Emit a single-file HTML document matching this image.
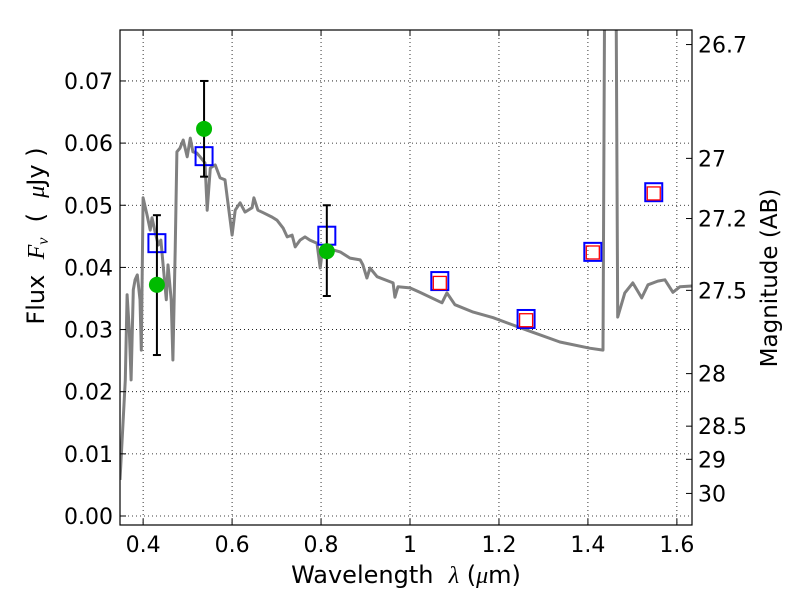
<!DOCTYPE html>
<html><head><meta charset="utf-8"><style>
body{margin:0;background:#fff;}
svg{display:block;font-family:"DejaVu Sans","Liberation Sans",sans-serif;}
</style></head><body>
<svg id="chart" width="800" height="600" xmlns="http://www.w3.org/2000/svg">
<rect width="800" height="600" fill="#fff"/>
<g id="grid"></g>
<g id="plot"></g>
<g id="axes"></g>
<text x="406" y="583" font-size="24" text-anchor="middle">Wavelength&#160;&#160;<tspan font-family="Liberation Serif,serif" font-style="italic">λ</tspan> (<tspan font-family="Liberation Serif,serif" font-style="italic">μ</tspan>m)</text>
<text transform="translate(44,236) rotate(-90)" font-size="24" text-anchor="middle">Flux&#160;&#160;<tspan font-family="Liberation Serif,serif" font-style="italic">F<tspan font-size="16" dy="4">ν</tspan></tspan><tspan dy="-4">&#160;&#160;(&#160;&#160;</tspan><tspan font-family="Liberation Serif,serif" font-style="italic">μ</tspan>Jy )</text>
<text transform="translate(777,278) rotate(-90)" font-size="23" text-anchor="middle">Magnitude (AB)</text>
</svg>
<script>
const specLam=[0.348,0.360,0.364,0.369,0.373,0.378,0.382,0.387,0.393,0.396,0.400,0.409,0.416,0.420,0.427,0.434,0.440,0.445,0.452,0.456,0.463,0.467,0.472,0.476,0.483,0.490,0.499,0.506,0.512,0.521,0.528,0.539,0.544,0.551,0.562,0.573,0.584,0.589,0.600,0.607,0.618,0.629,0.645,0.649,0.658,0.670,0.690,0.701,0.715,0.724,0.735,0.742,0.753,0.764,0.775,0.791,0.798,0.804,0.843,0.865,0.888,0.894,0.903,0.910,0.926,0.962,0.966,0.973,1.000,1.022,1.072,1.083,1.101,1.142,1.187,1.263,1.337,1.404,1.434,1.438,1.463,1.467,1.483,1.501,1.521,1.535,1.557,1.573,1.591,1.607,1.634];
const specFlux=[0.0058,0.0219,0.0356,0.0299,0.0219,0.0364,0.0380,0.0388,0.0348,0.0267,0.0512,0.0484,0.0460,0.0480,0.0457,0.0436,0.0444,0.0404,0.0348,0.0404,0.0348,0.0251,0.0428,0.0586,0.0592,0.0605,0.0578,0.0608,0.0586,0.0584,0.0578,0.0568,0.0492,0.0560,0.0565,0.0544,0.0541,0.0513,0.0452,0.0492,0.0504,0.0489,0.0496,0.0512,0.0492,0.0488,0.0481,0.0476,0.0463,0.0449,0.0452,0.0433,0.0444,0.0449,0.0444,0.0439,0.0399,0.0433,0.0425,0.0415,0.0412,0.0404,0.0383,0.0399,0.0385,0.0375,0.0352,0.0369,0.0367,0.0360,0.0343,0.0359,0.0340,0.0328,0.0319,0.0299,0.0280,0.0270,0.0267,0.09,0.09,0.0320,0.0359,0.0375,0.0351,0.0372,0.0378,0.0380,0.0360,0.0369,0.0370];
const obsLam=[0.431,0.537,0.813];
const obsFlux=[0.0372,0.0623,0.0426];
const obsErrHi=[0.0484,0.0700,0.0500];
const obsErrLo=[0.0259,0.0546,0.0354];
const modLam=[0.431,0.537,0.813,1.067,1.261,1.411,1.548];
const modFlux=[0.0439,0.0579,0.0451,0.0378,0.0317,0.0425,0.0521];
const redLam=[1.067,1.261,1.411,1.548];
const redFlux=[0.0375,0.0315,0.0424,0.0519];
const xTicks=[0.4,0.6,0.8,1.0,1.2,1.4,1.6];
const xTickLabels=["0.4","0.6","0.8","1","1.2","1.4","1.6"];
const yTicks=[0,0.01,0.02,0.03,0.04,0.05,0.06,0.07];
const yTickLabels=["0.00","0.01","0.02","0.03","0.04","0.05","0.06","0.07"];
const magTicks=[26.7,27,27.2,27.5,28,28.5,29,30];
const magTickLabels=["26.7","27","27.2","27.5","28","28.5","29","30"];

const L=120,R=692,T=30,B=525;
const X0=0.348,X1=1.634,Y0=-0.00145,Y1=0.0782;
const sx=v=>L+(v-X0)/(X1-X0)*(R-L);
const sy=v=>B-(v-Y0)/(Y1-Y0)*(B-T);
const magToFlux=m=>Math.pow(10,(23.9-m)/2.5);
const NS="http://www.w3.org/2000/svg";
function mk(tag,attrs,parent){const e=document.createElementNS(NS,tag);for(const k in attrs)e.setAttribute(k,attrs[k]);parent.appendChild(e);return e;}
const grid=document.getElementById('grid'),plot=document.getElementById('plot'),axes=document.getElementById('axes');

xTicks.forEach((t,i)=>{
  const x=sx(t);
  const g=mk('line',{x1:x,x2:x,y1:T,y2:B,stroke:'#000','stroke-width':0.8,'stroke-dasharray':'1,3'},grid);
  
  
  mk('line',{x1:x,x2:x,y1:B,y2:B-6,stroke:'#000'},axes);
  mk('line',{x1:x,x2:x,y1:T,y2:T+6,stroke:'#000'},axes);
  const tx=mk('text',{x:x,y:B+27,'font-size':22,'text-anchor':'middle'},axes);
  tx.textContent=xTickLabels[i];
  
  
});
yTicks.forEach((t,i)=>{
  const y=sy(t);
  const g=mk('line',{x1:L,x2:R,y1:y,y2:y,stroke:'#000','stroke-width':0.8,'stroke-dasharray':'1,3'},grid);
  
  
  mk('line',{x1:L,x2:L+6,y1:y,y2:y,stroke:'#000'},axes);
  const tx=mk('text',{x:L-7,y:y+8,'font-size':22,'text-anchor':'end'},axes);
  tx.textContent=yTickLabels[i];
  
  
});
magTicks.forEach((m,i)=>{
  const y=sy(magToFlux(m));
  mk('line',{x1:R,x2:R-6,y1:y,y2:y,stroke:'#000'},axes);
  const tx=mk('text',{x:R+6,y:y+8,'font-size':22},axes);
  tx.textContent=magTickLabels[i];
  
  
});
const fr=mk('rect',{x:L,y:T,width:R-L,height:B-T,fill:'none',stroke:'#000','stroke-width':1.2},axes);



const defs=mk('defs',{},plot);
const cp=mk('clipPath',{id:'clip'},defs);
mk('rect',{x:L,y:T,width:R-L,height:B-T},cp);
const pts=specLam.map((l,i)=>sx(l).toFixed(1)+','+sy(specFlux[i]).toFixed(1)).join(' ');
const sp=mk('polyline',{points:pts,fill:'none',stroke:'#808080','stroke-width':3,'stroke-linejoin':'round','clip-path':'url(#clip)'},plot);



modLam.forEach((l,i)=>{
  const x=sx(l),y=sy(modFlux[i]);
  const r=mk('rect',{x:x-8.5,y:y-9,width:17,height:18,fill:'none',stroke:'#0000ff','stroke-width':2},plot);
  
  
});
redLam.forEach((l,i)=>{
  const x=sx(l),y=sy(redFlux[i]);
  const r=mk('rect',{x:x-6.5,y:y-6.5,width:13,height:13,fill:'none',stroke:'#ff0000','stroke-width':1.3},plot);
  
  
});
obsLam.forEach((l,i)=>{
  const x=sx(l);
  const y1=sy(obsErrHi[i]),y2=sy(obsErrLo[i]);
  const e=mk('g',{stroke:'#000','stroke-width':2},plot);
  
  
  mk('line',{x1:x,x2:x,y1:y1,y2:y2},e);
  mk('line',{x1:x-4,x2:x+4,y1:y1,y2:y1},e);
  mk('line',{x1:x-4,x2:x+4,y1:y2,y2:y2},e);
  const c=mk('circle',{cx:x,cy:sy(obsFlux[i]),r:8,fill:'#00bb00'},plot);
  
  
});
</script>
</body></html>
